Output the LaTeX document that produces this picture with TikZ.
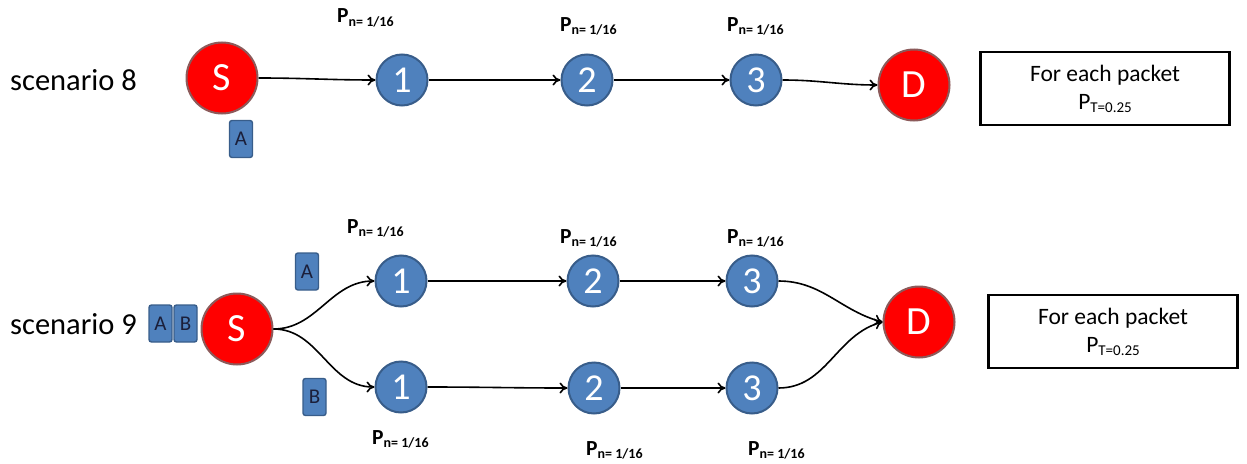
\documentclass[tikz,border=0pt]{standalone}
\usepackage{fontspec}
\setmainfont{Carlito}
\usetikzlibrary{arrows.meta}
\definecolor{nodeblue}{HTML}{4F81BD}
\definecolor{blueborder}{HTML}{385D8A}
\definecolor{redborder}{HTML}{8C5A5A}
\definecolor{pkttext}{HTML}{1B1F3A}
\newcommand{\plabel}{P\raisebox{-3pt}{\fontsize{14}{14}\selectfont n= 1/16}}
\newcommand{\ptlabel}{P\raisebox{-3pt}{\fontsize{15}{15}\selectfont T=0.25}}
\tikzset{
  bluenode/.style={circle, fill=nodeblue, draw=blueborder, line width=2pt, minimum size=51pt, inner sep=0pt, text=white, font=\fontsize{38}{38}\selectfont},
  rednode/.style={circle, fill=red, draw=redborder, line width=2pt, minimum size=71pt, inner sep=0pt, text=white, font=\fontsize{40}{40}\selectfont},
  pkt/.style={rectangle, rounded corners=2.5pt, fill=nodeblue, draw=blueborder, line width=1.4pt, minimum width=23pt, minimum height=37pt, inner sep=0pt, text=pkttext, font=\fontsize{21}{21}\selectfont},
  infobox/.style={rectangle, draw=black, line width=2.2pt, minimum width=249pt, minimum height=73pt, align=center, font=\fontsize{23.5}{28}\selectfont},
  plab/.style={anchor=base west, inner sep=0pt, font=\bfseries\fontsize{21.5}{21.5}\selectfont},
  scen/.style={anchor=west, inner sep=0pt, font=\fontsize{30.5}{30.5}\selectfont},
  arr/.style={-{To[length=8pt,width=11pt]}, line width=1.6pt, black},
}
\begin{document}
\begin{tikzpicture}[x=1pt,y=-1pt]
\useasboundingbox (0,0) rectangle (1247,463);
% scenario 8
\node[scen] (t8) at (10,80) {scenario 8};
\node[rednode] (S8) at (222,78) {S};
\node[pkt] (pA8) at (241,139) {A};
\node[bluenode] (n1) at (402,80) {1};
\node[bluenode] (n2) at (587,80) {2};
\node[bluenode] (n3) at (756,80) {3};
\node[rednode] (D8) at (914,85) {D};
\node[plab] (p1) at (337,23) {\plabel};
\node[plab] (p2) at (560,31) {\plabel};
\node[plab] (p3) at (727,31) {\plabel};
\node[infobox] (b8) at (1105,88.5) {For each packet\\\ptlabel};
\draw[arr] (S8.east) to[out=0,in=180] (n1.west);
\draw[arr] (n1.east) to[out=0,in=180] (n2.west);
\draw[arr] (n2.east) to[out=0,in=180] (n3.west);
\draw[arr] (n3.east) to[out=0,in=180] (D8.west);
% scenario 9
\node[scen] (t9) at (10,324) {scenario 9};
\node[pkt] (pA9) at (160.5,323.5) {A};
\node[pkt] (pB9) at (185.5,323.5) {B};
\node[rednode] (S9) at (237,329) {S};
\node[pkt] (uA) at (307,271.5) {A};
\node[pkt] (lB) at (314.5,397) {B};
\node[bluenode] (u1) at (401,281) {1};
\node[bluenode] (u2) at (593,281) {2};
\node[bluenode] (u3) at (752,281) {3};
\node[bluenode] (l1) at (401,387) {1};
\node[bluenode] (l2) at (594,388) {2};
\node[bluenode] (l3) at (752,388) {3};
\node[rednode] (D9) at (919,322) {D};
\node[plab] (q1) at (347,233) {\plabel};
\node[plab] (q2) at (560,243) {\plabel};
\node[plab] (q3) at (727,243) {\plabel};
\node[plab] (r1) at (372,444) {\plabel};
\node[plab] (r2) at (586,455) {\plabel};
\node[plab] (r3) at (748,455) {\plabel};
\node[infobox] (b9) at (1113,331.5) {For each packet\\\ptlabel};
\draw[arr] (S9.east) to[out=0,in=180] (u1.west);
\draw[arr] (S9.east) to[out=0,in=180] (l1.west);
\draw[arr] (u1.east) to[out=0,in=180] (u2.west);
\draw[arr] (u2.east) to[out=0,in=180] (u3.west);
\draw[arr] (l1.east) to[out=0,in=180] (l2.west);
\draw[arr] (l2.east) to[out=0,in=180] (l3.west);
\draw[arr] (u3.east) to[out=0,in=165] (D9.west);
\draw[arr] (l3.east) to[out=0,in=195] (D9.west);
\end{tikzpicture}
\end{document}
